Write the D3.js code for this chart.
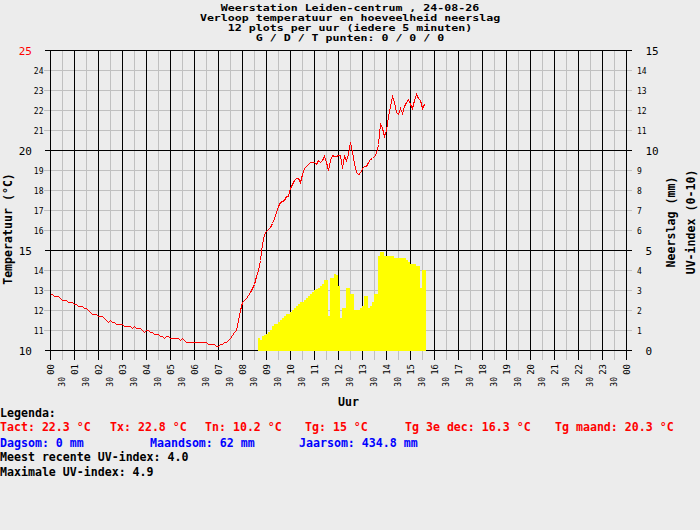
<!DOCTYPE html>
<html>
<head>
<meta charset="utf-8">
<script src="https://cdn.jsdelivr.net/npm/d3@7"></script>
<style>
  body { margin: 0; background: #ececec; }
  svg { display: block; }
  text { font-family: "DejaVu Sans Mono", "Liberation Mono", monospace; }
</style>
</head>
<body>
<div id="chart"></div>
<script>
// temperature, one plot every 5 minutes from 00:00
var tempStart = 0;          // hours
var stepMinutes = 5;
var temperature = [
	12.8, 12.8, 12.7, 12.7, 12.7, 12.6, 12.5, 12.5, 12.5, 12.4, 12.4, 12.4,
	12.3, 12.3, 12.2, 12.2, 12.2, 12.1, 12.1, 12.0, 11.9, 11.8, 11.8, 11.8,
	11.7, 11.7, 11.7, 11.6, 11.5, 11.4, 11.5, 11.4, 11.4, 11.3, 11.3, 11.3,
	11.3, 11.2, 11.2, 11.2, 11.2, 11.1, 11.2, 11.1, 11.1, 11.1, 11.0, 10.9,
	11.0, 11.0, 10.9, 10.9, 10.8, 10.8, 10.8, 10.7, 10.7, 10.6, 10.7, 10.7,
	10.6, 10.6, 10.6, 10.6, 10.6, 10.5, 10.6, 10.5, 10.4, 10.4, 10.4, 10.4,
	10.4, 10.4, 10.4, 10.4, 10.4, 10.4, 10.4, 10.3, 10.3, 10.3, 10.3, 10.2,
	10.2, 10.3, 10.3, 10.4, 10.4, 10.5, 10.6, 10.75, 10.9, 11.0, 11.5, 12.0,
	12.4, 12.5, 12.6, 12.75, 12.9, 13.1, 13.3, 13.7, 14.0, 14.5, 15.3, 15.8,
	15.95, 16.05, 16.15, 16.35, 16.6, 16.9, 17.2, 17.4, 17.45, 17.5, 17.7, 17.7,
	18.1, 18.3, 18.5, 18.6, 18.6, 18.4, 18.8, 19.1, 19.2, 19.3, 19.4, 19.4,
	19.4, 19.3, 19.5, 19.4, 19.5, 19.7, 19.4, 19.0, 19.5, 19.75, 19.7, 19.7,
	19.75, 19.75, 19.1, 19.7, 19.5, 19.8, 20.4, 19.9, 19.35, 18.9, 18.8, 18.85,
	19.1, 19.2, 19.2, 19.4, 19.55, 19.6, 19.7, 19.85, 20.3, 21.35, 21.1, 20.7,
	21.0, 21.7, 22.2, 22.7, 22.4, 21.9, 21.8, 22.1, 21.85, 22.2, 22.4, 22.55,
	22.3, 22.1, 22.5, 22.8, 22.6, 22.5, 22.1, 22.3
];

// UV-index, one bar every 5 minutes from 08:40
var uvStart = 8 + 40 / 60;
var uvIndex = [
	0.6, 0.5, 0.7, 0.75,
	0.8, 0.9, 1.0, 1.2, 1.3, 1.3, 1.4, 1.5, 1.6, 1.7, 1.8, 1.8,
	1.9, 2.0, 2.1, 2.2, 2.3, 2.4, 2.4, 2.5, 2.6, 2.7, 2.8, 2.9,
	3.0, 3.05, 3.1, 3.2, 3.3, 3.5, 3.5, 1.7, 3.6, 3.6, 3.8, 3.75,
	3.2, 1.6, 2.1, 2.1, 3.1, 3.1, 2.8, 2.8, 2.0, 2.0, 2.0, 2.1,
	2.2, 2.7, 2.7, 2.1, 2.2, 2.4, 2.8, 2.8, 4.7, 4.9, 4.9, 4.7,
	4.7, 4.7, 4.7, 4.7, 4.6, 4.6, 4.6, 4.6, 4.6, 4.6, 4.5, 4.4,
	4.3, 4.3, 4.3, 4.2, 4.2, 3.1, 4.0, 4.0
];

var hourLabels = ["00","01","02","03","04","05","06","07","08","09","10","11",
	"12","13","14","15","16","17","18","19","20","21","22","23","00"];
var tempMajor = [10, 15, 20, 25];
var rainMajor = [0, 5, 10, 15];

var titleLines = [
	"Weerstation Leiden-centrum , 24-08-26",
	"Verloop temperatuur en hoeveelheid neerslag",
	"12 plots per uur (iedere 5 minuten)",
	"G / D / T punten: 0 / 0 / 0"
];
var legendTemp = [
	["Tact: 22.3 °C", 0], ["Tx: 22.8 °C", 110], ["Tn: 10.2 °C", 205],
	["Tg: 15 °C", 305], ["Tg 3e dec: 16.3 °C", 405], ["Tg maand: 20.3 °C", 555]
];
var legendRain = [
	["Dagsom: 0 mm", 0], ["Maandsom: 62 mm", 150], ["Jaarsom: 434.8 mm", 299]
];
var legendUv = ["Meest recente UV-index: 4.0", "Maximale UV-index: 4.9"];

var width = 700, height = 530;
var gridGray = "#c0c0c0";

var svg = d3.select("#chart").append("svg")
	.attr("width", width)
	.attr("height", height);

svg.append("rect").attr("width", width).attr("height", height).attr("fill", "#ececec");

var x = d3.scaleLinear().domain([0, 24]).range([50.5, 626.5]);
var yT = d3.scaleLinear().domain([10, 25]).range([350.5, 50.5]);
var yR = d3.scaleLinear().domain([0, 15]).range([350.5, 50.5]);

var g = svg.append("g").attr("shape-rendering", "crispEdges");

// vertical grid, black on the hour and gray on the half hour
var halfHours = d3.range(0, 48.5).map(function (d) { return d / 2; });
g.selectAll("line.vgrid")
		.data(halfHours)
	.enter().append("line")
		.attr("class", "vgrid")
		.attr("x1", function (d) { return x(d); })
		.attr("x2", function (d) { return x(d); })
		.attr("y1", yT(25))
		.attr("y2", yT(10) + 9)
		.attr("stroke", function (d) { return d % 1 === 0 ? "#000" : gridGray; });

// horizontal grid
var tempTicks = d3.range(10, 26);
g.selectAll("line.hgrid")
		.data(tempTicks)
	.enter().append("line")
		.attr("class", "hgrid")
		.attr("x1", function (d) { return tempMajor.indexOf(d) >= 0 ? 45 : 44; })
		.attr("x2", 632)
		.attr("y1", function (d) { return yT(d); })
		.attr("y2", function (d) { return yT(d); })
		.attr("stroke", function (d) { return tempMajor.indexOf(d) >= 0 ? "#000" : gridGray; });

// draw black lines above the gray ones
g.selectAll("line").filter(function () { return d3.select(this).attr("stroke") === "#000"; }).raise();

// UV bars
var step = stepMinutes / 60;
g.selectAll("rect.uv")
		.data(uvIndex)
	.enter().append("rect")
		.attr("class", "uv")
		.attr("x", function (d, i) { return x(uvStart + i * step) - 0.5; })
		.attr("width", function (d, i) { return x(uvStart + (i + 1) * step) - x(uvStart + i * step); })
		.attr("y", function (d) { return yR(d) - 0.5; })
		.attr("height", function (d) { return yR(0) + 1 - yR(d); })
		.attr("fill", "#ffff00");

// temperature line
var line = d3.line()
	.x(function (d, i) { return x(tempStart + i * step); })
	.y(function (d) { return yT(d); });

svg.append("path")
	.datum(temperature)
	.attr("d", line)
	.attr("fill", "none")
	.attr("stroke", "#ff0000")
	.attr("stroke-width", 1)
	.attr("shape-rendering", "crispEdges");

// left tick labels
svg.selectAll("text.tl")
		.data(tempTicks)
	.enter().append("text")
		.attr("class", "tl")
		.attr("text-anchor", "end")
		.attr("x", function (d) { return tempMajor.indexOf(d) >= 0 ? 32 : 43.5; })
		.attr("y", function (d) { return yT(d) + (tempMajor.indexOf(d) >= 0 ? 4 : 3); })
		.attr("font-size", function (d) { return tempMajor.indexOf(d) >= 0 ? "11px" : "8px"; })
		.attr("fill", function (d) { return d === 25 ? "#ff0000" : "#000"; })
		.text(function (d) { return d; });

// right tick labels
var rainTicks = d3.range(0, 16);
svg.selectAll("text.tr")
		.data(rainTicks)
	.enter().append("text")
		.attr("class", "tr")
		.attr("x", function (d) { return rainMajor.indexOf(d) >= 0 ? 645.5 : 637; })
		.attr("y", function (d) { return yR(d) + (rainMajor.indexOf(d) >= 0 ? 4 : 3); })
		.attr("font-size", function (d) { return rainMajor.indexOf(d) >= 0 ? "11px" : "8px"; })
		.text(function (d) { return d; });

// hour labels, rotated
svg.selectAll("text.hr")
		.data(hourLabels)
	.enter().append("text")
		.attr("class", "hr")
		.attr("text-anchor", "end")
		.attr("font-size", "9px")
		.attr("transform", function (d, i) { return "translate(" + (x(i) + 3.3) + ",364) rotate(-90)"; })
		.text(function (d) { return d; });

svg.selectAll("text.hh")
		.data(d3.range(24))
	.enter().append("text")
		.attr("class", "hh")
		.attr("text-anchor", "end")
		.attr("font-size", "8px")
		.attr("transform", function (d) { return "translate(" + (x(d + 0.5) + 2.8) + ",377) rotate(-90)"; })
		.text("30");

// titles: the bitmap font of the original is tall and narrow, so squeeze vertically
svg.selectAll("text.title")
		.data(titleLines)
	.enter().append("text")
		.attr("class", "title")
		.attr("text-anchor", "middle")
		.attr("transform", function (d, i) { return "translate(350," + (10.5 + i * 10) + ") scale(1,0.75)"; })
		.attr("font-size", "11.6px")
		.attr("font-weight", "bold")
		.text(function (d) { return d; });

var bold = function (sel) { return sel.attr("font-size", "11.6px").attr("font-weight", "bold"); };

svg.append("text").attr("x", 348.5).attr("y", 406).attr("text-anchor", "middle").call(bold).text("Uur");

svg.append("text").call(bold).attr("text-anchor", "middle")
	.attr("transform", "translate(12,229) rotate(-90)").text("Temperatuur (°C)");
svg.append("text").call(bold).attr("text-anchor", "middle")
	.attr("transform", "translate(675,222) rotate(-90)").text("Neerslag (mm)");
svg.append("text").call(bold).attr("text-anchor", "middle")
	.attr("transform", "translate(695,222) rotate(-90)").text("UV-index (0-10)");

// legend
svg.append("text").call(bold).attr("x", 0).attr("y", 416.5).text("Legenda:");
svg.selectAll("text.lt")
		.data(legendTemp)
	.enter().append("text")
		.attr("class", "lt")
		.call(bold)
		.attr("x", function (d) { return d[1]; })
		.attr("y", 431)
		.attr("fill", "#ff0000")
		.text(function (d) { return d[0]; });
svg.selectAll("text.lr")
		.data(legendRain)
	.enter().append("text")
		.attr("class", "lr")
		.call(bold)
		.attr("x", function (d) { return d[1]; })
		.attr("y", 446.5)
		.attr("fill", "#0000ff")
		.text(function (d) { return d[0]; });
svg.selectAll("text.lu")
		.data(legendUv)
	.enter().append("text")
		.attr("class", "lu")
		.call(bold)
		.attr("x", 0)
		.attr("y", function (d, i) { return 461 + i * 15; })
		.text(function (d) { return d; });
</script>
</body>
</html>
